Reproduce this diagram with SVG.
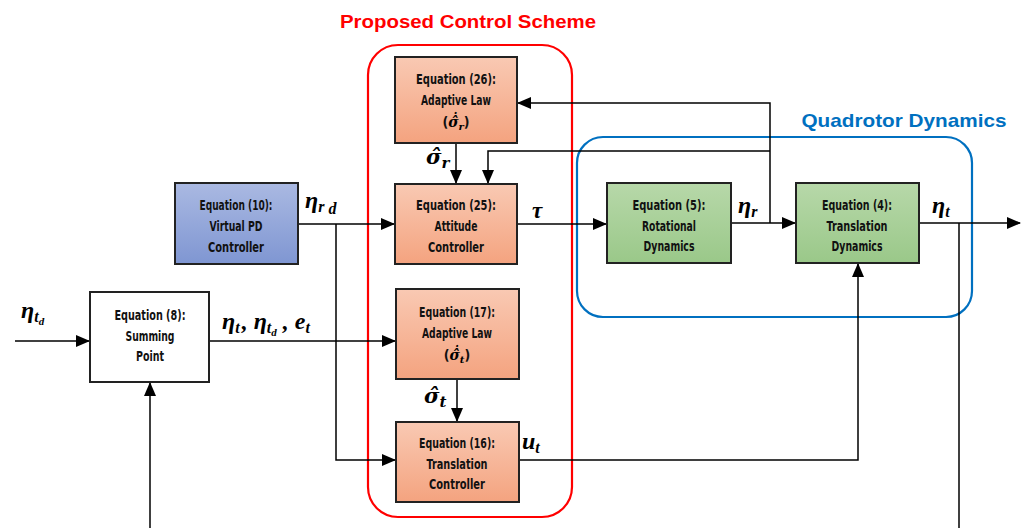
<svg xmlns="http://www.w3.org/2000/svg" width="1026" height="528" viewBox="0 0 1026 528">
<style>
.box{stroke:#222;stroke-width:2}
.lbl{font-family:"DejaVu Sans Condensed","DejaVu Sans",sans-serif;font-weight:bold;font-size:14px;fill:#111;text-anchor:middle}
.m{font-family:"Liberation Serif","DejaVu Serif",serif;font-weight:bold;font-style:italic;fill:#000}
.d{font-family:"DejaVu Serif",serif;font-weight:bold;font-style:italic;fill:#000}
.p{font-family:"DejaVu Sans Condensed","DejaVu Sans",sans-serif;font-weight:bold;font-size:14px;font-style:normal;fill:#111}
.w{fill:none;stroke:#000;stroke-width:1.5}
</style>
<defs>
<linearGradient id="gO" x1="0" y1="0" x2="0" y2="1"><stop offset="0" stop-color="#F9C9B3"/><stop offset="1" stop-color="#F4A37F"/></linearGradient>
<linearGradient id="gB" x1="0" y1="0" x2="0" y2="1"><stop offset="0" stop-color="#AAB9E2"/><stop offset="1" stop-color="#7F96D2"/></linearGradient>
<linearGradient id="gG" x1="0" y1="0" x2="0" y2="1"><stop offset="0" stop-color="#B7D8A9"/><stop offset="1" stop-color="#9AC889"/></linearGradient>
<marker id="ar" markerWidth="14" markerHeight="12" refX="13" refY="6" orient="auto" markerUnits="userSpaceOnUse"><path d="M0,0 L14,6 L0,12 Z" fill="#000"/></marker>
</defs>
<rect width="1026" height="528" fill="#fff"/>

<g id="groups">
<rect x="368" y="45" width="204" height="472" rx="30" fill="none" stroke="#F00" stroke-width="2.2"/>
<text x="468" y="28" text-anchor="middle" font-family="Liberation Sans, sans-serif" font-weight="bold" font-size="18" fill="#F00" textLength="256" lengthAdjust="spacingAndGlyphs">Proposed Control Scheme</text>
<rect x="577" y="137" width="395" height="180" rx="26" fill="none" stroke="#0070C0" stroke-width="2.2"/>
<text x="904" y="127" text-anchor="middle" font-family="Liberation Sans, sans-serif" font-weight="bold" font-size="19" fill="#0070C0" textLength="205" lengthAdjust="spacingAndGlyphs">Quadrotor Dynamics</text>
</g>

<g id="connectors">
<path class="w" d="M15,341 H89" marker-end="url(#ar)"/>
<path class="w" d="M150,528 V383" marker-end="url(#ar)"/>
<path class="w" d="M209,341 H395" marker-end="url(#ar)"/>
<path class="w" d="M298,224 H394" marker-end="url(#ar)"/>
<path class="w" d="M336,224 V460 H395" marker-end="url(#ar)"/>
<path class="w" d="M456,143 V183" marker-end="url(#ar)"/>
<path class="w" d="M457,379 V421" marker-end="url(#ar)"/>
<path class="w" d="M517,224 H606" marker-end="url(#ar)"/>
<path class="w" d="M731,223 H795" marker-end="url(#ar)"/>
<path class="w" d="M770,223 V103 H518" marker-end="url(#ar)"/>
<path class="w" d="M770,151 H488 V183" marker-end="url(#ar)"/>
<path class="w" d="M919,223 H1020" marker-end="url(#ar)"/>
<path class="w" d="M959,223 V528"/>
<path class="w" d="M519,460 H858 V264" marker-end="url(#ar)"/>
</g>

<g id="eq26">
<rect class="box" x="395" y="57" width="122" height="86" fill="url(#gO)"/>
<text class="lbl" x="456" y="84" textLength="80" lengthAdjust="spacingAndGlyphs">Equation (26):</text>
<text class="lbl" x="456" y="105" textLength="70" lengthAdjust="spacingAndGlyphs">Adaptive Law</text>
<text class="d" x="456" y="127" font-size="14" text-anchor="middle"><tspan class="p">(</tspan>σ̂̇<tspan font-size="10" dy="3">r</tspan><tspan class="p" dy="-3">)</tspan></text>
</g>

<g id="eq25">
<rect class="box" x="395" y="184" width="122" height="80" fill="url(#gO)"/>
<text class="lbl" x="456" y="210" textLength="80" lengthAdjust="spacingAndGlyphs">Equation (25):</text>
<text class="lbl" x="456" y="231" textLength="43" lengthAdjust="spacingAndGlyphs">Attitude</text>
<text class="lbl" x="456" y="252" textLength="56" lengthAdjust="spacingAndGlyphs">Controller</text>
</g>

<g id="eq17">
<rect class="box" x="396" y="289" width="123" height="90" fill="url(#gO)"/>
<text class="lbl" x="457" y="317" textLength="76" lengthAdjust="spacingAndGlyphs">Equation (17):</text>
<text class="lbl" x="457" y="338" textLength="70" lengthAdjust="spacingAndGlyphs">Adaptive Law</text>
<text class="d" x="457" y="360" font-size="14" text-anchor="middle"><tspan class="p">(</tspan>σ̂̇<tspan font-size="10" dy="3">t</tspan><tspan class="p" dy="-3">)</tspan></text>
</g>

<g id="eq16">
<rect class="box" x="396" y="422" width="123" height="80" fill="url(#gO)"/>
<text class="lbl" x="457" y="448" textLength="76" lengthAdjust="spacingAndGlyphs">Equation (16):</text>
<text class="lbl" x="457" y="469" textLength="61" lengthAdjust="spacingAndGlyphs">Translation</text>
<text class="lbl" x="457" y="489" textLength="56" lengthAdjust="spacingAndGlyphs">Controller</text>
</g>

<g id="eq10">
<rect class="box" x="175" y="183" width="123" height="81" fill="url(#gB)"/>
<text class="lbl" x="236" y="210" textLength="73" lengthAdjust="spacingAndGlyphs">Equation (10):</text>
<text class="lbl" x="236" y="231" textLength="53" lengthAdjust="spacingAndGlyphs">Virtual PD</text>
<text class="lbl" x="236" y="252" textLength="56" lengthAdjust="spacingAndGlyphs">Controller</text>
</g>

<g id="eq8">
<rect class="box" x="90" y="292" width="119" height="90" fill="#fff"/>
<text class="lbl" x="150" y="320" textLength="71" lengthAdjust="spacingAndGlyphs">Equation (8):</text>
<text class="lbl" x="150" y="341" textLength="49" lengthAdjust="spacingAndGlyphs">Summing</text>
<text class="lbl" x="150" y="361" textLength="28" lengthAdjust="spacingAndGlyphs">Point</text>
</g>

<g id="eq5">
<rect class="box" x="607" y="183" width="124" height="80" fill="url(#gG)"/>
<text class="lbl" x="669" y="210" textLength="73" lengthAdjust="spacingAndGlyphs">Equation (5):</text>
<text class="lbl" x="669" y="231" textLength="54" lengthAdjust="spacingAndGlyphs">Rotational</text>
<text class="lbl" x="669" y="251" textLength="51" lengthAdjust="spacingAndGlyphs">Dynamics</text>
</g>

<g id="eq4">
<rect class="box" x="796" y="183" width="123" height="80" fill="url(#gG)"/>
<text class="lbl" x="857" y="210" textLength="70" lengthAdjust="spacingAndGlyphs">Equation (4):</text>
<text class="lbl" x="857" y="231" textLength="61" lengthAdjust="spacingAndGlyphs">Translation</text>
<text class="lbl" x="857" y="251" textLength="51" lengthAdjust="spacingAndGlyphs">Dynamics</text>
</g>

<g id="labels">
<text class="m" x="21" y="318" font-size="24">η<tspan font-size="16" dy="4">t</tspan><tspan font-size="11" dy="3">d</tspan></text>
<text class="m" x="222" y="329" font-size="24">η<tspan font-size="16" dy="4">t</tspan><tspan dx="2" dy="-4">, η</tspan><tspan font-size="16" dy="4">t</tspan><tspan font-size="11" dy="3">d</tspan><tspan dy="-7"> , e</tspan><tspan font-size="16" dy="4">t</tspan></text>
<text class="m" x="305" y="208" font-size="24">η<tspan font-size="16" dy="4">r</tspan><tspan font-size="16" dy="2"> d</tspan></text>
<text class="m" x="532" y="218" font-size="23">τ</text>
<text class="d" x="426" y="164" font-size="21">σ̂<tspan font-size="15" dy="4">r</tspan></text>
<text class="d" x="424" y="403" font-size="21">σ̂<tspan font-size="15" dy="4">t</tspan></text>
<text class="m" x="522" y="449" font-size="24">u<tspan font-size="16" dy="4">t</tspan></text>
<text class="m" x="738" y="213" font-size="24">η<tspan font-size="16" dy="4">r</tspan></text>
<text class="m" x="932" y="213" font-size="24">η<tspan font-size="16" dy="4">t</tspan></text>
</g>
</svg>
